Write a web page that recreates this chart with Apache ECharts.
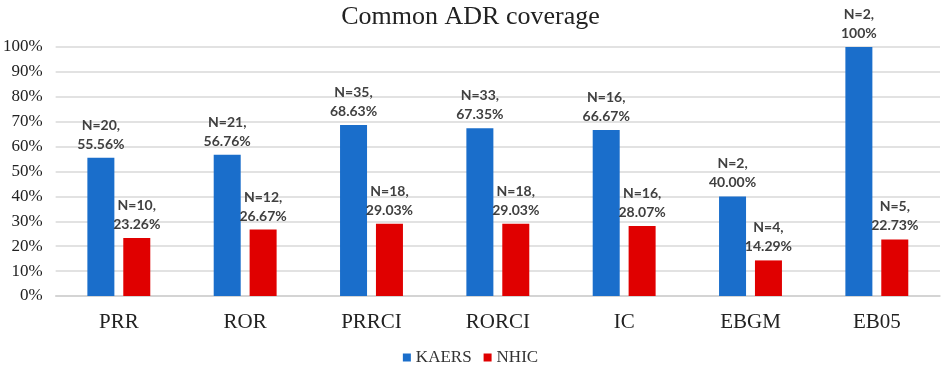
<!DOCTYPE html>
<html>
<head>
    <meta charset="UTF-8">
    <script src="https://cdn.jsdelivr.net/npm/echarts@6/dist/echarts.min.js"></script>
    <title>Common ADR coverage</title>
    <style>
        html, body { margin: 0; padding: 0; background: #fff; }
        #chart { width: 941px; height: 367px; }
    </style>
</head>
<body>
    <div id="chart"></div>
    <script type="text/javascript">
    // data
    var categories = ['PRR', 'ROR', 'PRRCI', 'RORCI', 'IC', 'EBGM', 'EB05'];
    var kaersPct = [55.56, 56.76, 68.63, 67.35, 66.67, 40.00, 100];
    var kaersN = [20, 21, 35, 33, 16, 2, 2];
    var nhicPct = [23.26, 26.67, 29.03, 29.03, 28.07, 14.29, 22.73];
    var nhicN = [10, 12, 18, 18, 16, 4, 5];
    var yTicks = [0, 10, 20, 30, 40, 50, 60, 70, 80, 90, 100];

    function pctText(v) {
        return v === 100 ? '100%' : v.toFixed(2) + '%';
    }

    var chart = echarts.init(document.getElementById('chart'));
    var serif = '"Liberation Serif", "Times New Roman", serif';

    function labelFor(nArr) {
        return {
            show: true,
            position: 'top',
            distance: 4,
            fontFamily: 'Lato, "Open Sans", sans-serif',
            fontWeight: 'bold',
            fontSize: 14,
            lineHeight: 19,
            color: '#404040',
            formatter: function (p) {
                return 'N=' + nArr[p.dataIndex] + ',\n' + pctText(p.value);
            }
        };
    }

    var option = {
        animation: false,
        title: {
            text: 'Common ADR coverage',
            left: 'center',
            top: -1,
            textStyle: { fontFamily: serif, fontSize: 26, fontWeight: 'normal', color: '#222' }
        },
        legend: {
            top: 344,
            left: 'center',
            itemWidth: 8,
            itemHeight: 8,
            itemGap: 12,
            icon: 'rect',
            textStyle: { fontFamily: serif, fontSize: 17, color: '#333' },
            data: ['KAERS', 'NHIC']
        },
        grid: { left: 54, right: 1, top: 47, bottom: 71 },
        xAxis: {
            type: 'category',
            data: categories,
            axisTick: { show: false },
            axisLine: { lineStyle: { color: '#d0d0d0', width: 1.5 } },
            axisLabel: { fontFamily: serif, fontSize: 21, color: '#222', margin: 16 }
        },
        yAxis: {
            type: 'value',
            min: yTicks[0],
            max: yTicks[yTicks.length - 1],
            interval: 10,
            axisLine: { show: false },
            axisTick: { show: false },
            splitLine: { lineStyle: { color: '#d9d9d9', width: 1.5 } },
            axisLabel: {
                fontFamily: serif, fontSize: 17, color: '#222', margin: 13,
                formatter: function (v) { return v + '%'; }
            }
        },
        series: [{
            name: 'KAERS',
            type: 'bar',
            data: kaersPct,
            barWidth: 27,
            barGap: '33%',
            itemStyle: { color: '#1a6ecb' },
            label: labelFor(kaersN)
        }, {
            name: 'NHIC',
            type: 'bar',
            data: nhicPct,
            barWidth: 27,
            itemStyle: { color: '#e00000' },
            label: labelFor(nhicN)
        }]
    };
    chart.setOption(option);
    </script>
</body>
</html>
